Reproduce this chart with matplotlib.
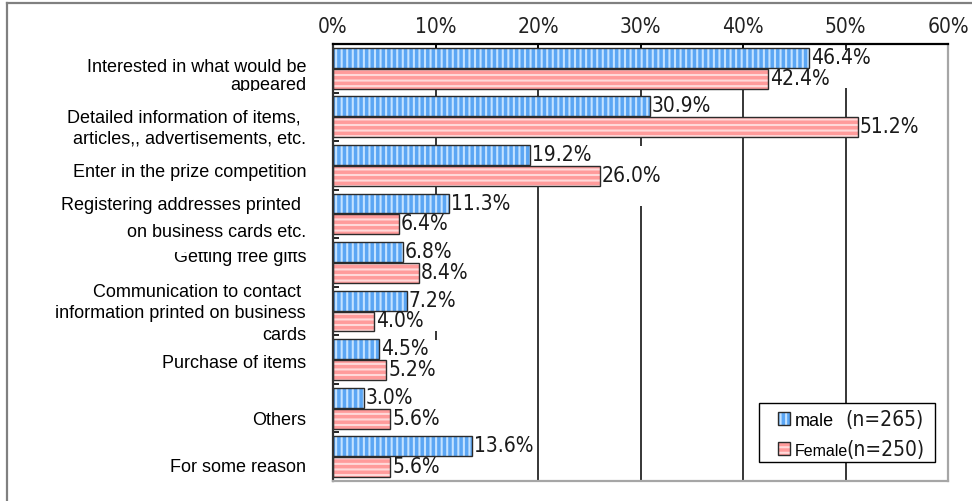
import matplotlib
matplotlib.use("Agg")
import matplotlib.pyplot as plt
import matplotlib.font_manager as fm
from matplotlib.patches import Rectangle
from matplotlib.lines import Line2D
from matplotlib.transforms import Bbox, TransformedBbox

# survey answers, one entry per row (multi-line labels split into lines)
categories = [
    ["Interested in what would be", "appeared"],
    ["Detailed information of items, ", "articles,, advertisements, etc."],
    ["Enter in the prize competition"],
    ["Registering addresses printed ", "on business cards etc."],
    ["Getting free gifts"],
    ["Communication to contact ", "information printed on business", "cards"],
    ["Purchase of items"],
    ["Others"],
    ["For some reason"],
]
male = [46.4, 30.9, 19.2, 11.3, 6.8, 7.2, 4.5, 3.0, 13.6]
female = [42.4, 51.2, 26.0, 6.4, 8.4, 4.0, 5.2, 5.6, 5.6]
series_names = ["male", "Female"]
sample_sizes = [265, 250]
x_ticks = [0, 10, 20, 30, 40, 50, 60]

W, H = 972, 501
TXT_FONT = "Liberation Sans"


def narrow_font():
    # prefer a condensed sans face for the numbers if one is installed
    for f in fm.fontManager.ttflist:
        name = f.name.lower()
        if f.style != "normal" or f.weight not in (400, "normal", "regular"):
            continue
        if "mono" in name or "serif" in name and "sans" not in name:
            continue
        if "narrow" in name or "condensed" in name or f.stretch in ("condensed", "semi-condensed"):
            return fm.FontProperties(fname=f.fname), True
    return fm.FontProperties(family="DejaVu Sans"), False


NUM_PROPS, IS_NARROW = narrow_font()
NUM_SIZE = 15 if IS_NARROW else 12.5

plt.rcParams["hatch.linewidth"] = 1.5

fig = plt.figure(figsize=(W / 100, H / 100), dpi=100)


def fx(px):
    return px / W


def fy(py):
    return 1 - py / H


def num_font():
    p = NUM_PROPS.copy()
    p.set_size(NUM_SIZE)
    return p


ax = fig.add_axes([fx(333), fy(481), fx(948) - fx(333), fy(44) - fy(481)])
ax.set_xlim(0, 60)
ax.set_ylim(len(categories), 0)

rows = range(len(categories))
male_y = [i + 0.285 for i in rows]
female_y = [i + 0.715 for i in rows]
bh = 0.41

# striped fills, then the dark outlines on top
ax.barh(male_y, male, height=bh, color="#5ba6f4", edgecolor="#c4e2ff",
        linewidth=0, hatch="|||", zorder=2)
ax.barh(female_y, female, height=bh, color="#ff9b9b", edgecolor="#ffd9d9",
        linewidth=0, hatch="---", zorder=2)
ax.barh(male_y, male, height=bh, fill=False, edgecolor="#2b2b2b", linewidth=1.0, zorder=2.1)
ax.barh(female_y, female, height=bh, fill=False, edgecolor="#2b2b2b", linewidth=1.0, zorder=2.1)

# grid
for v in x_ticks[1:-1]:
    ax.axvline(v, color="black", linewidth=1.1, zorder=1)

# value labels
value_texts = []
for ys, vals in ((male_y, male), (female_y, female)):
    for y, v in zip(ys, vals):
        t = ax.annotate(f"{v:.1f}%", xy=(v, y), xytext=(1.5, 0), textcoords="offset points",
                        ha="left", va="center", fontproperties=num_font(),
                        color="#1a1a1a", zorder=3)
        value_texts.append(t)

# category labels: first baseline (fraction of row) and line spacing (px)
label_layout = [(0.58, 18), (0.61, 21), (0.74, 0), (0.41, 27), (0.50, 0),
                (0.21, 21.5), (0.67, 0), (0.84, 0), (0.82, 0)]
label_texts = []
for i, (lines, (frac, step)) in enumerate(zip(categories, label_layout)):
    row = []
    for k, line in enumerate(lines):
        t = ax.annotate(line, xy=(0, i + frac), xycoords=("axes fraction", "data"),
                        xytext=(-27 * 0.72, -k * step * 0.72), textcoords="offset points",
                        ha="right", va="baseline", fontsize=13, family=TXT_FONT,
                        color="black", annotation_clip=False)
        row.append(t)
    label_texts.append(row)

# the text cells cut a couple of labels short
label_texts[0][1].set_clip_box(TransformedBbox(Bbox([[0, fy(91)], [fx(333), 1]]), fig.transFigure))
label_texts[0][1].set_clip_on(True)
label_texts[4][0].set_clip_box(TransformedBbox(Bbox([[0, 0], [fx(333), fy(252)]]), fig.transFigure))
label_texts[4][0].set_clip_on(True)

# axes styling
ax.xaxis.tick_top()
ax.set_xticks(x_ticks)
ax.set_xticklabels([f"{v}%" for v in x_ticks], fontproperties=num_font(), color="#222222")
ax.tick_params(axis="x", direction="in", length=4, width=1.2, pad=5, color="black")
ax.set_yticks(range(len(categories) + 1))
ax.set_yticklabels([])
ax.tick_params(axis="y", direction="in", length=4, width=1.2, color="black")
ax.spines["top"].set_color("black")
ax.spines["top"].set_linewidth(1.6)
ax.spines["left"].set_color("#333333")
ax.spines["left"].set_linewidth(1.6)
for s in ("right", "bottom"):
    ax.spines[s].set_color("#a6a6a6")
    ax.spines[s].set_linewidth(1.6)

# white cut-outs behind value labels interrupt the grid lines
fig.canvas.draw()
renderer = fig.canvas.get_renderer()
inv = ax.transData.inverted()
for t in value_texts:
    bb = t.get_window_extent(renderer)
    cy = (bb.y0 + bb.y1) / 2
    x0, y0 = inv.transform((bb.x0 - 3, cy - 30))
    x1, y1 = inv.transform((bb.x1 + 3, cy + 30))
    ax.add_patch(Rectangle((x0, y0), x1 - x0, y1 - y0, facecolor="white",
                           edgecolor="none", zorder=1.5))

# legend box
fig.add_artist(Rectangle((fx(759), fy(462)), fx(935) - fx(759), fy(403) - fy(462),
                         transform=fig.transFigure, facecolor="white",
                         edgecolor="black", linewidth=1.0, zorder=5))
swatches = [("#5ba6f4", "#c4e2ff", "|||"), ("#ff9b9b", "#ffd9d9", "---")]
name_sizes = [13, 11.5]
for k, (name, n) in enumerate(zip(series_names, sample_sizes)):
    top = 412 + k * 30
    face, stripe, hatch = swatches[k]
    fig.add_artist(Rectangle((fx(778), fy(top + 13)), fx(12), 13 / H,
                             transform=fig.transFigure, facecolor=face, edgecolor=stripe,
                             linewidth=0, hatch=hatch, zorder=6))
    fig.add_artist(Rectangle((fx(778), fy(top + 13)), fx(12), 13 / H,
                             transform=fig.transFigure, fill=False, edgecolor="#2b2b2b",
                             linewidth=1.0, zorder=6.1))
    fig.text(fx(795), fy(top + 14), name, fontsize=name_sizes[k], family=TXT_FONT,
             ha="left", va="baseline", zorder=7)
    fig.text(fx(924), fy(top + 14), f"(n={n})", fontproperties=num_font(),
             ha="right", va="baseline", color="#1a1a1a", zorder=7)

# outer frame
fig.add_artist(Line2D([fx(7), fx(7)], [fy(3), 0], transform=fig.transFigure,
                      color="#808080", linewidth=1.6))
fig.add_artist(Line2D([fx(7), 1], [fy(3), fy(3)], transform=fig.transFigure,
                      color="#808080", linewidth=1.6))

fig.savefig("out.png", dpi=100)
